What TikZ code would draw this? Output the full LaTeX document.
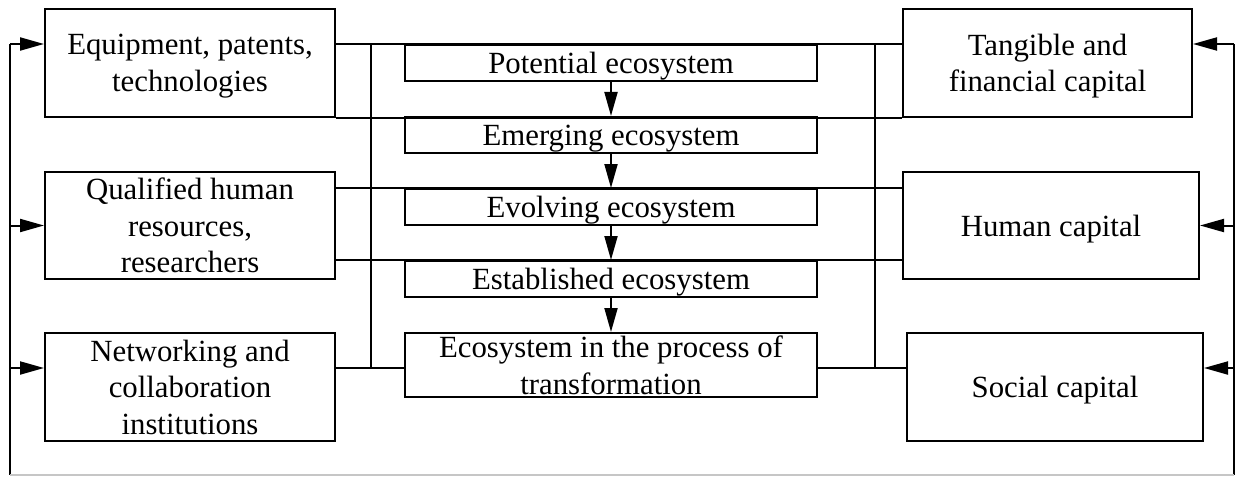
\documentclass[tikz,border=0pt]{standalone}
\usepackage{fontspec}
\setmainfont{Liberation Serif}
\usetikzlibrary{arrows.meta}
\begin{document}
\begin{tikzpicture}[x=0.5pt,y=-0.5pt,
  box/.style={draw, line width=1pt, inner sep=0pt, align=center, text depth=0pt, font=\fontsize{15.4}{18.2}\selectfont},
  side/.style={box, minimum width=145pt, minimum height=54pt},
  stage/.style={box, minimum width=206pt, minimum height=18pt},
  conn/.style={line width=1pt},
  arr/.style={line width=1pt, -{Triangle[length=12pt,width=6.5pt]}},
]
\useasboundingbox (0,0) rectangle (1235,476);
% left boxes
\node[side] (eq) at (190,63) {Equipment, patents,\\technologies};
\node[side, minimum height=53.5pt] (qh) at (190,225.5) {Qualified human\\resources,\\researchers};
\node[side] (nw) at (190,387) {Networking and\\collaboration\\institutions};
% right boxes
\node[side, minimum width=144.5pt] (tf) at (1047.5,63) {Tangible and\\financial capital};
\node[side, minimum width=148pt, minimum height=53.5pt] (hc) at (1051,225.5) {Human capital};
\node[side, minimum width=148pt] (sc) at (1055,387) {Social capital};
% stages
\node[stage] (pe) at (611,63) {Potential ecosystem};
\node[stage] (em) at (611,135) {Emerging ecosystem};
\node[stage] (ev) at (611,207) {Evolving ecosystem};
\node[stage] (es) at (611,279) {Established ecosystem};
\node[stage, minimum height=32pt] (tr) at (611,365) {Ecosystem in the process of\\transformation};
% helper coordinates
\coordinate (yl) at (0,368);
\coordinate (vL) at (371,0);
\coordinate (vR) at (875,0);
\coordinate (fL) at (10,0);
\coordinate (fR) at (1234,0);
\coordinate (fb) at (0,475);
% horizontal connectors
\draw[conn] (eq.east |- pe.north) -- (tf.west |- pe.north);
\draw[conn] (eq.south east) -- (tf.south west);
\draw[conn] (qh.east |- ev.north) -- (hc.west |- ev.north);
\draw[conn] (qh.east |- es.north) -- (hc.west |- es.north);
\draw[conn] (nw.east |- yl) -- (tr.west |- yl);
\draw[conn] (tr.east |- yl) -- (sc.west |- yl);
% vertical connectors
\draw[conn] (vL |- pe.north) -- (vL |- yl);
\draw[conn] (vR |- pe.north) -- (vR |- yl);
% stage arrows
\draw[arr] (pe.south) -- (em.north);
\draw[arr] (em.south) -- (ev.north);
\draw[arr] (ev.south) -- (es.north);
\draw[arr] (es.south) -- (tr.north);
% feedback loop
\draw[conn] (fL |- pe.north) -- (fL |- fb);
\draw[conn] (fR |- pe.north) -- (fR |- fb);
\draw[line width=1pt, gray!45] (fL |- fb) -- (fR |- fb);
\draw[arr] (fL |- pe.north) -- (eq.west |- pe.north);
\draw[arr] (fL |- qh.west) -- (qh.west);
\draw[arr] (fL |- yl) -- (nw.west |- yl);
\draw[arr] (fR |- pe.north) -- (tf.east |- pe.north);
\draw[arr] (fR |- hc.east) -- (hc.east);
\draw[arr] (fR |- yl) -- (sc.east |- yl);
\end{tikzpicture}
\end{document}
